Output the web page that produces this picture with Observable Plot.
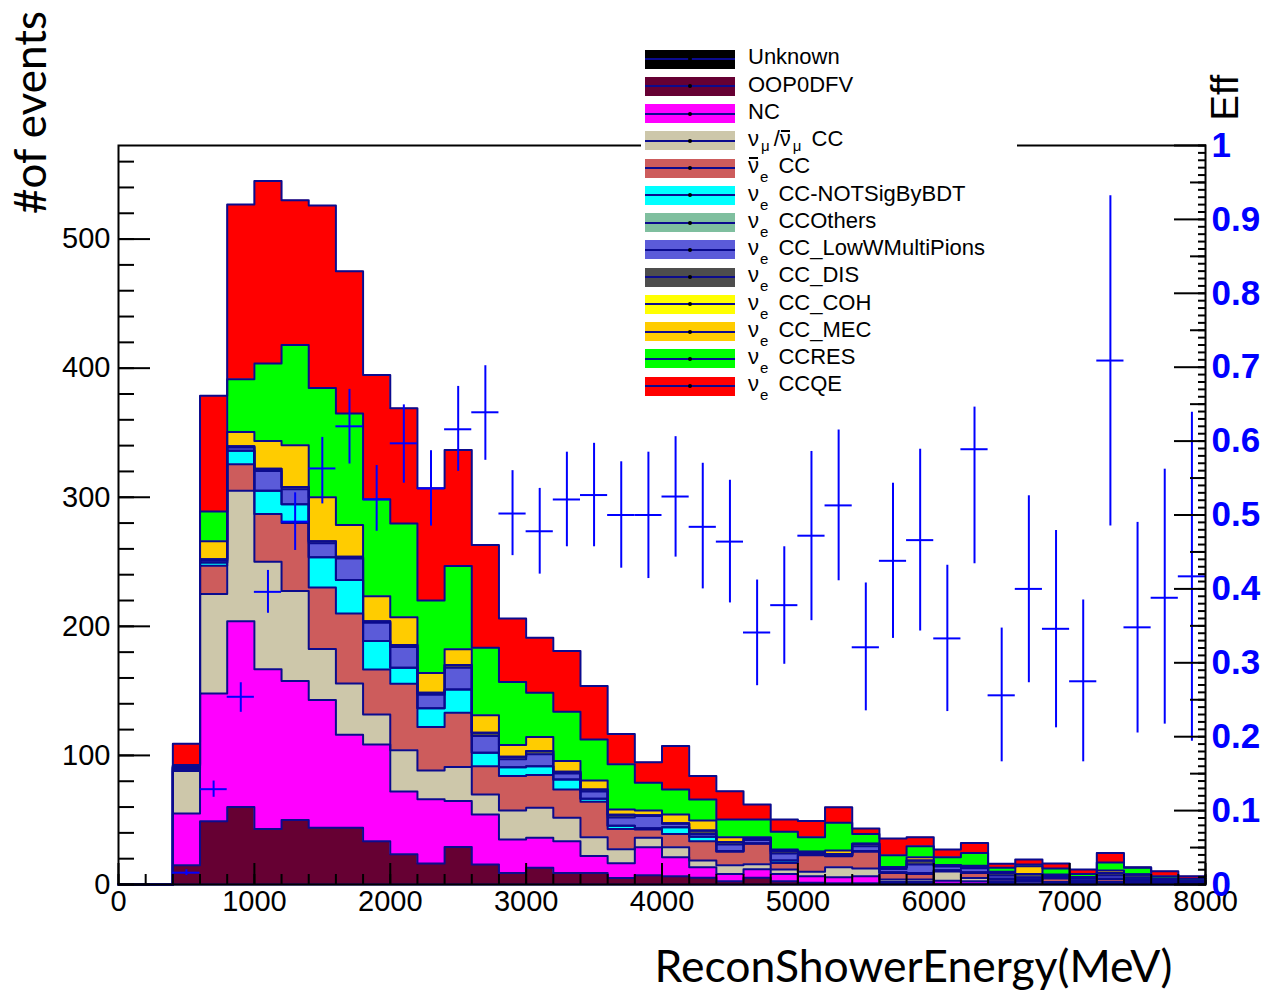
<!DOCTYPE html>
<html>
<head>
<meta charset="utf-8">
<script src="https://cdn.jsdelivr.net/npm/d3@7"></script>
<script src="https://cdn.jsdelivr.net/npm/@observablehq/plot@0.6"></script>
<style>
  html, body { margin: 0; padding: 0; background: #fff; }
  #wrap { position: relative; width: 1262px; height: 990px; overflow: hidden; background: #fff; }
  #legend { position: absolute; left: 641px; top: 44px; width: 376px; height: 358px; background: #fff;
            font-family: "Liberation Sans", Arial, sans-serif; font-size: 22px; color: #000; }
  .sw { position: absolute; left: 4px; width: 90px; height: 19px; }
  .sw .ln { position: absolute; left: 0; right: 0; top: 8.5px; height: 2px; background: #0b0b8e; }
  .sw .dot { position: absolute; left: 43px; top: 7.5px; width: 4px; height: 4px; border-radius: 2px; background: #000; }
  .lab { position: absolute; left: 107px; white-space: nowrap; line-height: 22px; }
  .lab sub { font-size: 15px; vertical-align: -9px; line-height: 0; padding-left: 1px; padding-right: 4px; }
  .lab sub.mu { font-size: 15px; vertical-align: -5px; padding-left: 2px; padding-right: 4px; }
  .nb { position: relative; }
  .nb::before { content: ""; position: absolute; left: 1px; right: 1px; top: 4px; border-top: 2px solid #000; }
</style>
</head>
<body>
<div id="wrap"></div>
<script>
// ---------- data ----------
const binLow = d3.range(0, 8000, 200);   // 40 bins, 200 MeV wide
const binWidth = 200;

const seriesNames = ["Unknown", "OOP0DFV", "NC", "numu CC", "nuebar CC", "nue CC-NOTSigByBDT",
  "nue CCOthers", "nue CC_LowWMultiPions", "nue CC_DIS", "nue CC_COH", "nue CC_MEC", "nue CCRES", "nue CCQE"];
const seriesColors = ["#000000", "#660033", "#ff00ff", "#cdc7aa", "#cd5c5c", "#00ffff",
  "#7fbf9f", "#5b5bd9", "#4d4d4d", "#ffff00", "#ffcc00", "#00ff00", "#ff0000"];
const legendLabels = [
  "Unknown", "OOP0DFV", "NC",
  'ν<sub class="mu">μ</sub>/<span class="nb">ν</span><sub class="mu">μ</sub> CC',
  '<span class="nb">ν</span><sub>e</sub> CC',
  'ν<sub>e</sub> CC-NOTSigByBDT',
  'ν<sub>e</sub> CCOthers',
  'ν<sub>e</sub> CC_LowWMultiPions',
  'ν<sub>e</sub> CC_DIS',
  'ν<sub>e</sub> CC_COH',
  'ν<sub>e</sub> CC_MEC',
  'ν<sub>e</sub> CCRES',
  'ν<sub>e</sub> CCQE'
];

const unknown  = [0,0,0,0,0,0,0,0,0,0,0,0,0,0,0,0,0,0,0,0,0,0,0,0,0,0,0,0,0,0,0,0,0,0,0,0,0,0,0,0];
const oop0dfv  = [0,0,15,49,60,43,50,44,44,33.5,23.5,16.3,29,15.5,9,13,9,9,5,7.2,6.4,5.2,2.6,5.3,2.6,1.3,1,1,0.5,0.5,0.5,0.5,0.5,0.3,0.3,0.2,0.3,0.2,0.2,0.1];
const nc       = [0,0,40,99,144,123.7,107.6,99,72,74.9,48.5,49.7,35.6,38.7,25.8,23.2,24.6,13,11.4,21.7,14.8,8.2,5.6,6.5,5.6,5.1,4.7,5.4,1.5,1.5,2.5,2.1,1,0.7,0.7,0.6,0.7,0.6,0.4,0.3];
const numuCC   = [0,0,33,77,101,83.3,69.8,39.4,39.8,23.3,32,22.3,26.4,15.6,22.6,23.2,18.1,14.7,10.9,7.3,7.7,5.2,6.8,3.9,3.4,3.4,7.7,6,1.8,1.8,7,2.5,1,1.5,1,0.7,1,1.2,0.6,0.4];
const nuebarCC = [0,0,1.5,22,20.5,37,52.6,47.6,54.2,34.9,51.5,33.7,42,21.9,26.6,25.4,21.9,27.4,15.7,6.4,10.3,15,10.3,15.9,5.1,12.9,8.5,12.9,5.2,4.4,0.5,3.9,1.5,1,2.6,1,2,1.5,0.8,0.7];
const notSig   = [0,0,1,2.5,10.5,18,14.5,23.5,25.8,22,12.5,14.5,18,10.3,6.9,6.9,7.8,2.4,2.5,0.9,5.2,3.4,0.7,0.4,1.8,0.3,0.3,0.7,0.5,0.8,0.5,0.5,0.5,0.5,0.4,0.5,0.5,0.5,0.5,0.3];
const ccOthers = [0,0,0,0,0,0,0,0,0,0,0,0,0,0,0,0,0,0,0,0,0,0,0,0,0,0,0,0,0,0,0,0,0,0,0,0,0,0,0,0];
const lowWMP   = [0,0,0.5,1.5,2.5,15.4,11.7,10.9,16.8,14.2,16,10.5,17,13,6.1,9.3,4.6,5.5,6.5,9.5,2.6,2.2,5,2.5,5.5,1.5,0.5,3.7,2.5,6.5,3,3,2.5,1.7,1,1.5,2.5,1.5,1,0.7];
const ccDIS    = [0,0,0.5,1,1,1.6,1.8,1.6,1.4,1.2,1.5,1.5,2,2.6,2,2.4,1.3,1.6,2,0.7,0.5,2.6,2,1.5,2,0.8,1,1.8,1.4,3.1,1,0.9,2,2.5,1,1.2,2,2.2,0.9,0.5];
const ccCOH    = [0,0,0,0,0,0,0,0,0,0,0,0,0,0,0,0,0,0,0,0,0,0,0,0,0,0,0,0,0,0,0,0,0,0,0,0,0,0,0,0];
const ccMEC    = [0,0,0.5,14,11,21.6,32.3,34,24.5,19.4,21.5,15.3,12.2,13.6,9,10.8,8.3,7,4.1,3.7,6.7,7.8,3.7,0.7,1.1,0,2.6,0,0,2.6,0,1.1,0.8,6,0.7,0,1.8,0,0,0];
const ccRES    = [0,0,0.5,23,41,60,77.7,84.7,86.3,75.1,72.7,56.2,64.5,52.2,48.8,34.3,38.2,31.8,35.1,21.4,19.4,16.3,13.7,13.7,13.7,11.4,21.5,7.7,9.3,8.5,6.2,10,3.1,1.2,4.7,2.5,6.2,5.3,2,1.5];
const ccQE     = [0,0,16.5,89.6,135.2,141.4,112,141.3,110.2,96.3,89.3,87,90,79.6,49.2,42.7,47,41.3,23.3,16,33.6,18.1,21.9,11.6,9.6,12.4,12.1,4.2,12.9,7,5.9,7.7,3.1,3.9,3.8,3.4,7.5,0.4,3.9,1.9];
const seriesValues = [unknown, oop0dfv, nc, numuCC, nuebarCC, notSig, ccOthers, lowWMP, ccDIS, ccCOH, ccMEC, ccRES, ccQE];

// efficiency (bins 2..39), central value and error-bar ends
const effFirstBin = 2;
const effVal = [0.016,0.129,0.254,0.396,0.491,0.563,0.620,0.521,0.597,0.536,0.616,0.639,0.502,0.478,0.521,0.527,0.500,0.500,0.525,0.484,0.464,0.341,0.378,0.472,0.513,0.321,0.438,0.466,0.333,0.589,0.256,0.400,0.346,0.275,0.709,0.348,0.388,0.417];
const effLo  = [0.012,0.118,0.233,0.367,0.452,0.515,0.569,0.478,0.543,0.485,0.559,0.574,0.445,0.420,0.457,0.457,0.428,0.414,0.443,0.400,0.381,0.269,0.298,0.357,0.411,0.235,0.333,0.343,0.234,0.434,0.166,0.273,0.212,0.166,0.485,0.205,0.217,0.194];
const effHi  = [0.020,0.140,0.273,0.425,0.530,0.605,0.670,0.567,0.649,0.587,0.674,0.702,0.560,0.536,0.585,0.597,0.572,0.585,0.606,0.570,0.547,0.412,0.457,0.586,0.615,0.408,0.543,0.589,0.432,0.646,0.347,0.526,0.479,0.385,0.932,0.490,0.562,0.639];

const xTicksMajor = d3.range(0, 8001, 1000);
const xTicksMinor = d3.range(0, 8001, 200);
const yTicksMajor = [0, 100, 200, 300, 400, 500];
const yTicksMinor = d3.range(0, 561, 20);
const effTicksMajor = d3.range(0, 11).map(i => i / 10);
const effTicksMid = d3.range(0, 20).map(i => i / 20 + 0.05).filter(v => Math.round(v * 100) % 10 !== 0);
const effTicksMinor = d3.range(0, 101).map(i => i / 100);

const YMAX = 572.5;   // top of left axis; right axis (Eff) 0..1 spans the same height

// ---------- build tables ----------
const rows = [];
seriesNames.forEach((s, k) => {
  const vals = seriesValues[k];
  binLow.forEach((x, i) => rows.push({s, x, v: vals[i]}));
  rows.push({s, x: binLow[binLow.length - 1] + binWidth, v: vals[vals.length - 1]});
});
const effRows = effVal.map((e, j) => {
  const b = effFirstBin + j;
  return {x1: binLow[b], x2: binLow[b] + binWidth, xc: binLow[b] + binWidth / 2, e, lo: effLo[j], hi: effHi[j]};
});

const lineColor = "#0b0b8e";
const effColor = "#0000ff";
const blank = () => "";

const chart = Plot.plot({
  width: 1262,
  height: 990,
  marginLeft: 118,
  marginRight: 57,
  marginTop: 145,
  marginBottom: 106,
  x: {domain: [0, 8000]},
  y: {domain: [0, YMAX]},
  color: {domain: seriesNames, range: seriesColors},
  style: {fontFamily: "'Liberation Sans', Arial, sans-serif", background: "white", color: "black"},
  marks: [
    Plot.areaY(rows, {x: "x", y: "v", z: "s", fill: "s", order: seriesNames, curve: "step-after"}),
    Plot.lineY(rows, Plot.stackY2({x: "x", y: "v", z: "s", order: seriesNames, curve: "step-after", stroke: lineColor, strokeWidth: 2})),
    Plot.ruleX(effRows, {x: "xc", y1: d => d.lo * YMAX, y2: d => d.hi * YMAX, stroke: effColor, strokeWidth: 2}),
    Plot.ruleY(effRows, {y: d => d.e * YMAX, x1: "x1", x2: "x2", stroke: effColor, strokeWidth: 2}),
    Plot.frame({stroke: "black", strokeWidth: 2}),
    // x axis
    Plot.axisX({ticks: xTicksMinor, tickSize: -10, tickFormat: blank, strokeWidth: 2, label: null}),
    Plot.axisX({ticks: xTicksMajor, tickSize: -21, tickFormat: blank, strokeWidth: 2, label: null}),
    Plot.axisX({ticks: xTicksMajor, tickSize: 0, tickPadding: 6, fontSize: 29, label: null, tickFormat: d => String(d)}),
    // left y axis
    Plot.axisY({ticks: yTicksMinor, tickSize: -16, tickFormat: blank, strokeWidth: 2, label: null}),
    Plot.axisY({ticks: yTicksMajor, tickSize: -32, tickFormat: blank, strokeWidth: 2, label: null}),
    Plot.axisY({ticks: yTicksMajor, tickSize: 0, tickPadding: 8, fontSize: 29, label: null, tickFormat: d => String(d)}),
    // right (Eff) axis
    Plot.axisY({anchor: "right", ticks: effTicksMinor.map(e => e * YMAX), tickSize: -8, tickFormat: blank, strokeWidth: 2, label: null}),
    Plot.axisY({anchor: "right", ticks: effTicksMid.map(e => e * YMAX), tickSize: -16, tickFormat: blank, strokeWidth: 2, label: null}),
    Plot.axisY({anchor: "right", ticks: effTicksMajor.map(e => e * YMAX), tickSize: -32, tickFormat: blank, strokeWidth: 2, label: null}),
    Plot.axisY({anchor: "right", ticks: effTicksMajor.map(e => e * YMAX), tickSize: 0, tickPadding: 6, fontSize: 35, fontWeight: "bold",
      fill: effColor, label: null, tickFormat: d => String(Math.round(d / YMAX * 10) / 10)}),
    // titles
    Plot.text(["#of events"], {frameAnchor: "top-left", dx: -87, dy: -33, rotate: -90, fontSize: 44, fontFamily: "Lato", textAnchor: "middle", lineAnchor: "middle"}),
    Plot.text(["ReconShowerEnergy(MeV)"], {frameAnchor: "bottom-right", dx: -33, dy: 83, fontSize: 44.5, fontFamily: "Lato", textAnchor: "end", lineAnchor: "middle"}),
    Plot.text(["Eff"], {frameAnchor: "top-right", dx: 20, dy: -48, rotate: -90, fontSize: 38, textAnchor: "middle", lineAnchor: "middle"})
  ]
});

const wrap = document.getElementById("wrap");
wrap.appendChild(chart);

// legend (overlaid, white box as in the original)
const legend = document.createElement("div");
legend.id = "legend";
seriesNames.forEach((s, i) => {
  const c = 15 + 27.25 * i;
  const sw = document.createElement("div");
  sw.className = "sw";
  sw.style.top = (c - 9.5) + "px";
  sw.style.background = seriesColors[i];
  sw.innerHTML = '<div class="ln"></div><div class="dot"></div>';
  legend.appendChild(sw);
  const lab = document.createElement("div");
  lab.className = "lab";
  lab.style.top = (c - 12.6) + "px";
  lab.innerHTML = legendLabels[i];
  legend.appendChild(lab);
});
wrap.appendChild(legend);
</script>
</body>
</html>
